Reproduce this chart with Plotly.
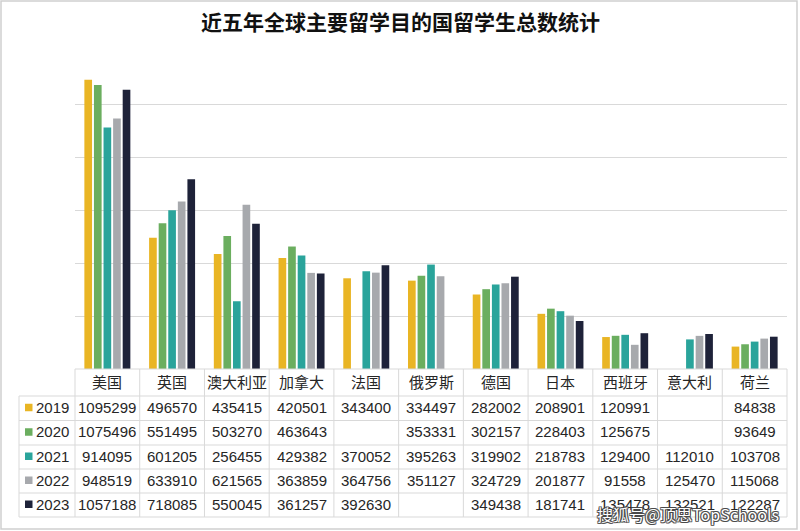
import plotly.graph_objects as go

countries = ["美国", "英国", "澳大利亚", "加拿大", "法国", "俄罗斯", "德国", "日本", "西班牙", "意大利", "荷兰"]
years = ["2019", "2020", "2021", "2022", "2023"]
v2019 = [1095299, 496570, 435415, 420501, 343400, 334497, 282002, 208901, 120991, None, 84838]
v2020 = [1075496, 551495, 503270, 463643, None, 353331, 302157, 228403, 125675, None, 93649]
v2021 = [914095, 601205, 256455, 429382, 370052, 395263, 319902, 218783, 129400, 112010, 103708]
v2022 = [948519, 633910, 621565, 363859, 364756, 351127, 324729, 201877, 91558, 125470, 115068]
v2023 = [1057188, 718085, 550045, 361257, 392630, None, 349438, 181741, 135478, 132521, 122287]
series = [v2019, v2020, v2021, v2022, v2023]
colors = ["#E9B524", "#6BAE5F", "#2AA49B", "#A7A9AD", "#1E2239"]

W, H = 800, 531
ML, MR, MT, MB = 75, 13, 52, 162
PW = W - ML - MR
PH = H - MT - MB


def px2x(px):
    return (px - ML) / PW


def px2y(py):
    return (H - MB - py) / PH


FONT = "Liberation Sans, Noto Sans CJK SC, sans-serif"
TXT = "#262626"
LINE = "#D9D9D9"

fig = go.Figure()
for yr, vals, c in zip(years, series, colors):
    fig.add_trace(go.Bar(name=yr, x=countries, y=vals, marker=dict(color=c, line=dict(width=0))))

shapes = []
annotations = []

# table geometry
row_lines = [369, 396, 420.5, 445, 469, 493, 517]
left_px = 19
right_px = W - MR
# horizontal lines
for i, ry in enumerate(row_lines):
    x0 = ML if i == 0 else left_px
    shapes.append(dict(type="line", xref="paper", yref="paper", x0=px2x(x0), x1=px2x(right_px),
                       y0=px2y(ry), y1=px2y(ry), line=dict(color=LINE, width=1)))
# vertical lines
ncol = len(countries)
for k in range(ncol + 1):
    xp = ML + k * PW / ncol
    shapes.append(dict(type="line", xref="paper", yref="paper", x0=px2x(xp), x1=px2x(xp),
                       y0=px2y(369), y1=px2y(517), line=dict(color=LINE, width=1)))
shapes.append(dict(type="line", xref="paper", yref="paper", x0=px2x(left_px), x1=px2x(left_px),
                   y0=px2y(396), y1=px2y(517), line=dict(color=LINE, width=1)))
# outer border
shapes.append(dict(type="rect", xref="paper", yref="paper", x0=px2x(1), x1=px2x(797),
                   y0=px2y(529), y1=px2y(1), line=dict(color="#CFCFCF", width=1.5)))

# header
for c in countries:
    annotations.append(dict(x=c, xref="x", y=px2y(382.5), yref="paper", text=c, showarrow=False,
                            font=dict(family=FONT, size=15, color=TXT), xanchor="center", yanchor="middle"))
# rows
for r, (yr, vals, col) in enumerate(zip(years, series, colors)):
    yc = (row_lines[r + 1] + row_lines[r + 2]) / 2 - 1
    shapes.append(dict(type="rect", xref="paper", yref="paper", x0=px2x(25), x1=px2x(32.5),
                       y0=px2y(yc + 4), y1=px2y(yc - 3.5), fillcolor=col, line=dict(width=0)))
    annotations.append(dict(x=px2x(34), xref="paper", y=px2y(yc), yref="paper", text=yr, showarrow=False,
                            font=dict(family=FONT, size=15, color=TXT), xanchor="left", yanchor="middle"))
    for c, v in zip(countries, vals):
        if v is None:
            continue
        annotations.append(dict(x=c, xref="x", y=px2y(yc), yref="paper", text=str(v), showarrow=False,
                                font=dict(family=FONT, size=15, color=TXT), xanchor="center", yanchor="middle"))

# title
annotations.append(dict(x=px2x(400), xref="paper", y=px2y(21), yref="paper",
                        text="<b>近五年全球主要留学目的国留学生总数统计</b>", showarrow=False,
                        font=dict(family="Noto Sans CJK SC", size=21, color="#111111"),
                        xanchor="center", yanchor="middle"))

# watermark
wm = "搜狐号@顶思TopSchools"
for dx, dy in [(-1, 0), (1, 0), (0, -1), (0, 1), (-1, -1), (1, 1), (-1, 1), (1, -1)]:
    annotations.append(dict(x=px2x(781), xref="paper", y=px2y(514), yref="paper", text=wm, showarrow=False,
                            xshift=dx, yshift=dy,
                            font=dict(family="Noto Sans CJK SC", size=16, color="rgba(70,70,70,0.75)"),
                            xanchor="right", yanchor="middle"))
annotations.append(dict(x=px2x(781), xref="paper", y=px2y(514), yref="paper", text=wm, showarrow=False,
                        font=dict(family="Noto Sans CJK SC", size=16, color="white"),
                        xanchor="right", yanchor="middle"))

fig.update_layout(
    width=W, height=H,
    margin=dict(l=ML, r=MR, t=MT, b=MB, pad=0),
    paper_bgcolor="white", plot_bgcolor="white",
    barmode="group", bargap=0.26, bargroupgap=0.2,
    showlegend=False,
    xaxis=dict(type="category", showticklabels=False, showgrid=False, zeroline=False, showline=False,
               ticks="", range=[-0.5, len(countries) - 0.5]),
    yaxis=dict(range=[0, 1200000], tickvals=[0, 200000, 400000, 600000, 800000, 1000000, 1200000],
               showticklabels=False, showgrid=True, gridcolor=LINE, gridwidth=1, zeroline=False,
               showline=False, ticks=""),
    shapes=shapes,
    annotations=annotations,
)

fig.write_html("out.html")
